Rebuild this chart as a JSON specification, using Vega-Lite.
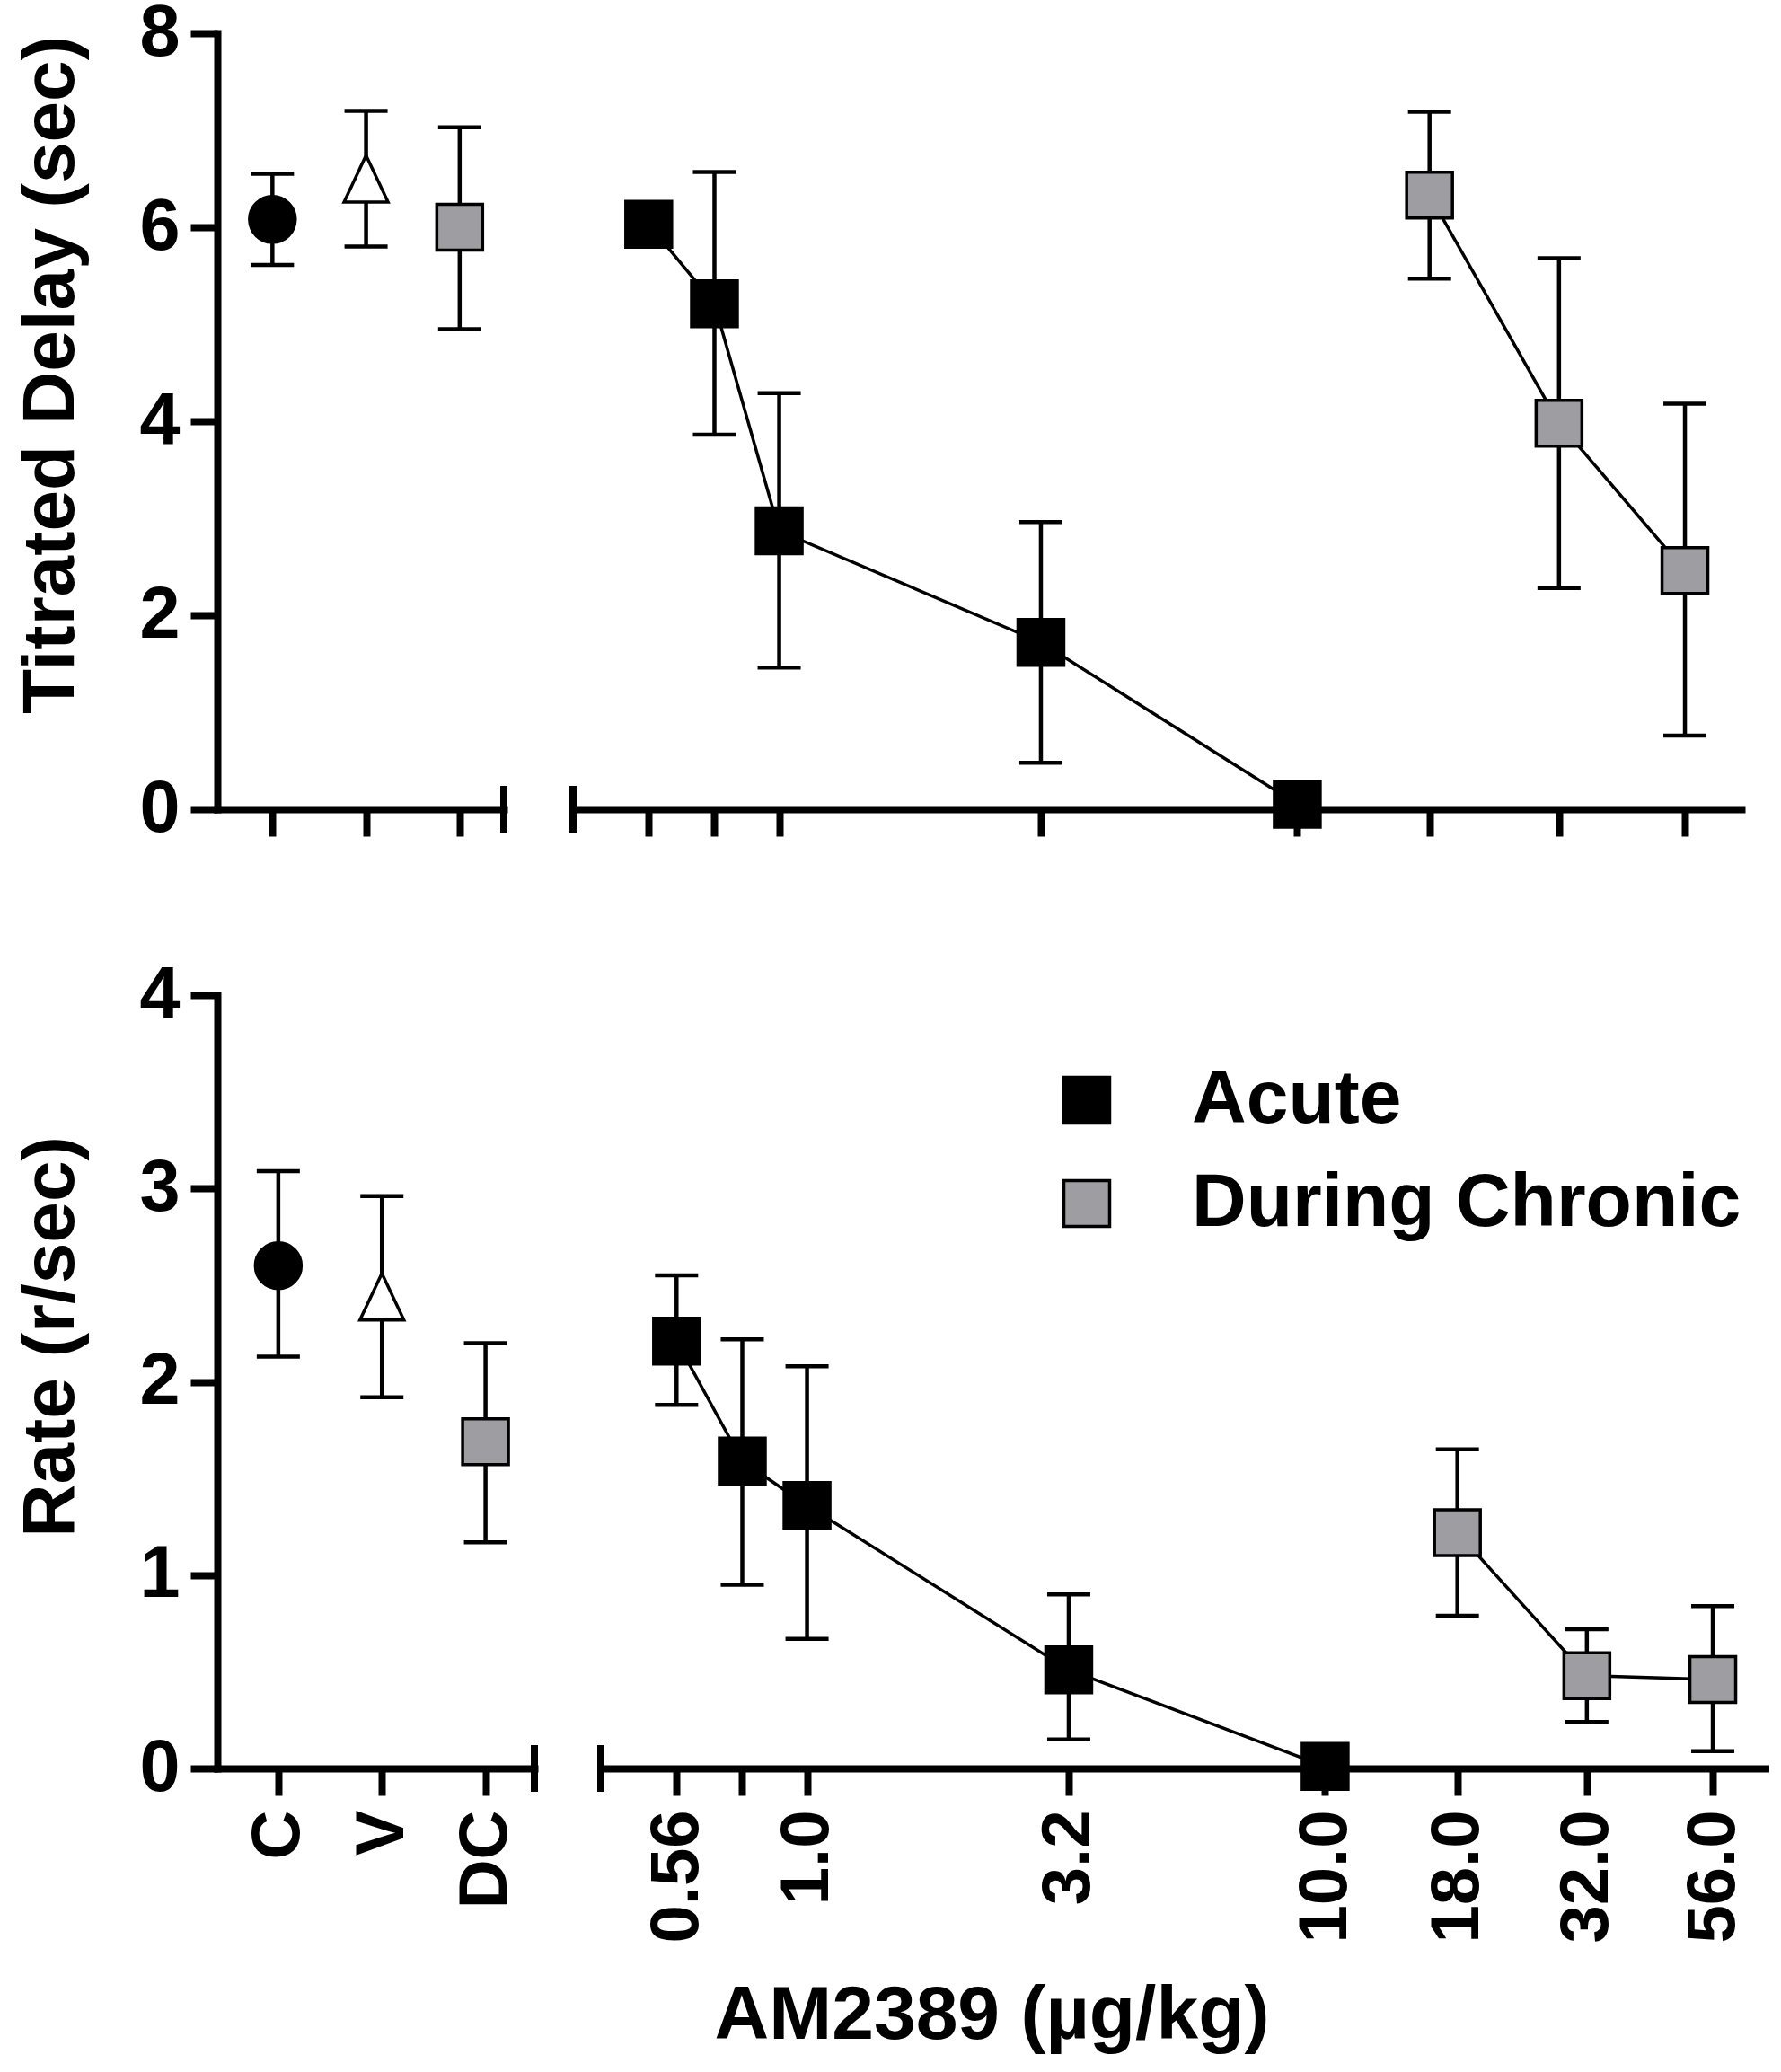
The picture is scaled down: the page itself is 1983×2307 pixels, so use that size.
{
  "$schema": "https://vega.github.io/schema/vega-lite/v6.json",
  "background": "white",
  "padding": {"left": 15, "top": -4, "right": 0, "bottom": 0},
  "datasets": {
    "delay": [
      {"group": "C", "mean": 6.08, "lo": 5.61, "hi": 6.55},
      {"group": "V", "mean": 6.5, "lo": 5.8, "hi": 7.2},
      {"group": "DC", "mean": 6.0, "lo": 4.95, "hi": 7.03},
      {"group": "Acute", "dose": 0.56, "mean": 6.03, "lo": 5.95, "hi": 6.1},
      {"group": "Acute", "dose": 0.75, "mean": 5.21, "lo": 3.86, "hi": 6.57},
      {"group": "Acute", "dose": 1.0, "mean": 2.87, "lo": 1.46, "hi": 4.29},
      {"group": "Acute", "dose": 3.2, "mean": 1.72, "lo": 0.48, "hi": 2.96},
      {"group": "Acute", "dose": 10, "mean": 0.05, "lo": 0.02, "hi": 0.08},
      {"group": "During Chronic", "dose": 18, "mean": 6.33, "lo": 5.47, "hi": 7.19},
      {"group": "During Chronic", "dose": 32, "mean": 3.98, "lo": 2.28, "hi": 5.68},
      {"group": "During Chronic", "dose": 56, "mean": 2.46, "lo": 0.76, "hi": 4.18}
    ],
    "rate": [
      {"group": "C", "mean": 2.6, "lo": 2.13, "hi": 3.09},
      {"group": "V", "mean": 2.44, "lo": 1.92, "hi": 2.96},
      {"group": "DC", "mean": 1.69, "lo": 1.17, "hi": 2.2},
      {"group": "Acute", "dose": 0.56, "mean": 2.21, "lo": 1.88, "hi": 2.55},
      {"group": "Acute", "dose": 0.75, "mean": 1.59, "lo": 0.95, "hi": 2.22},
      {"group": "Acute", "dose": 1.0, "mean": 1.36, "lo": 0.67, "hi": 2.08},
      {"group": "Acute", "dose": 3.2, "mean": 0.51, "lo": 0.15, "hi": 0.9},
      {"group": "Acute", "dose": 10, "mean": 0.01, "lo": 0.0, "hi": 0.02},
      {"group": "During Chronic", "dose": 18, "mean": 1.22, "lo": 0.79, "hi": 1.65},
      {"group": "During Chronic", "dose": 32, "mean": 0.48, "lo": 0.24, "hi": 0.72},
      {"group": "During Chronic", "dose": 56, "mean": 0.46, "lo": 0.09, "hi": 0.84}
    ]
  },
  "spacing": 126,
  "resolve": {"legend": {"fill": "independent"}},
  "vconcat": [
    {
      "bounds": "flush",
      "spacing": 77,
      "resolve": {"legend": {"fill": "independent"}},
      "hconcat": [
        {
          "width": 319,
          "height": 864,
          "data": {"name": "delay"},
          "transform": [{"filter": "!isValid(datum.dose)"}],
          "encoding": {
            "x": {"field": "group", "type": "nominal", "sort": ["C", "V", "DC"], "scale": {"type": "point", "padding": 0.53, "align": 0.555}, "axis": {"labels": false}, "title": null}
          },
          "layer": [
            {
              "mark": {"type": "rule", "color": "black", "strokeWidth": 4.5},
              "encoding": {
                "y": {"field": "lo", "type": "quantitative", "scale": {"domain": [0, 8], "nice": false, "zero": false}, "title": "Titrated Delay (sec)"},
                "y2": {"field": "hi"}
              }
            },
            {
              "mark": {"type": "tick", "orient": "horizontal", "color": "black", "size": 48, "thickness": 4.5, "opacity": 1},
              "encoding": {"y": {"field": "lo", "type": "quantitative", "scale": {"domain": [0, 8], "nice": false, "zero": false}, "title": "Titrated Delay (sec)"}}
            },
            {
              "mark": {"type": "tick", "orient": "horizontal", "color": "black", "size": 48, "thickness": 4.5, "opacity": 1},
              "encoding": {"y": {"field": "hi", "type": "quantitative", "scale": {"domain": [0, 8], "nice": false, "zero": false}, "title": "Titrated Delay (sec)"}}
            },
            {
              "mark": {"type": "point", "filled": true, "opacity": 1, "stroke": "black", "strokeWidth": 3.5, "size": 2600},
              "encoding": {
                "y": {"field": "mean", "type": "quantitative", "scale": {"domain": [0, 8], "nice": false, "zero": false}, "title": "Titrated Delay (sec)"},
                "fill": {"field": "group", "type": "nominal", "scale": {"domain": ["C", "V", "DC", "Acute", "During Chronic"], "range": ["black", "white", "#9d9da2", "black", "#9d9da2"]}, "legend": null},
                "shape": {"field": "group", "type": "nominal", "scale": {"domain": ["C", "V", "DC", "Acute", "During Chronic"], "range": ["circle", "M0,-1.02L-0.96,1.02L0.96,1.02Z", "square", "square", "square"]}, "legend": null}
              }
            },
            {
              "mark": {"type": "rule", "color": "black", "strokeWidth": 8},
              "encoding": {
                "x": {"value": "width"},
                "y": {"datum": -0.24, "type": "quantitative", "scale": {"domain": [0, 8], "nice": false, "zero": false}, "title": "Titrated Delay (sec)"},
                "y2": {"datum": 0.24}
              }
            }
          ]
        },
        {
          "width": 1301,
          "height": 864,
          "data": {"name": "delay"},
          "transform": [{"filter": "isValid(datum.dose)"}],
          "encoding": {
            "x": {"field": "dose", "type": "quantitative", "scale": {"type": "log", "domain": [0.4, 72], "nice": false}, "axis": {"values": [0.56, 0.75, 1, 3.2, 10, 18, 32, 56], "labels": false}, "title": null}
          },
          "layer": [
            {
              "mark": {"type": "line", "color": "black", "strokeWidth": 3.5},
              "encoding": {
                "y": {"field": "mean", "type": "quantitative", "scale": {"domain": [0, 8], "nice": false, "zero": false}, "axis": null},
                "detail": {"field": "group"}
              }
            },
            {
              "mark": {"type": "rule", "color": "black", "strokeWidth": 4.5},
              "encoding": {
                "y": {"field": "lo", "type": "quantitative", "scale": {"domain": [0, 8], "nice": false, "zero": false}, "axis": null},
                "y2": {"field": "hi"}
              }
            },
            {
              "mark": {"type": "tick", "orient": "horizontal", "color": "black", "size": 48, "thickness": 4.5, "opacity": 1},
              "encoding": {"y": {"field": "lo", "type": "quantitative", "scale": {"domain": [0, 8], "nice": false, "zero": false}, "axis": null}}
            },
            {
              "mark": {"type": "tick", "orient": "horizontal", "color": "black", "size": 48, "thickness": 4.5, "opacity": 1},
              "encoding": {"y": {"field": "hi", "type": "quantitative", "scale": {"domain": [0, 8], "nice": false, "zero": false}, "axis": null}}
            },
            {
              "mark": {"type": "point", "filled": true, "opacity": 1, "stroke": "black", "strokeWidth": 3.5, "size": 2600},
              "encoding": {
                "y": {"field": "mean", "type": "quantitative", "scale": {"domain": [0, 8], "nice": false, "zero": false}, "axis": null},
                "fill": {"field": "group", "type": "nominal", "scale": {"domain": ["C", "V", "DC", "Acute", "During Chronic"], "range": ["black", "white", "#9d9da2", "black", "#9d9da2"]}, "legend": null},
                "shape": {"field": "group", "type": "nominal", "scale": {"domain": ["C", "V", "DC", "Acute", "During Chronic"], "range": ["circle", "M0,-1.02L-0.96,1.02L0.96,1.02Z", "square", "square", "square"]}, "legend": null}
              }
            },
            {
              "mark": {"type": "rule", "color": "black", "strokeWidth": 8},
              "encoding": {
                "x": {"datum": 0.4, "type": "quantitative"},
                "y": {"datum": -0.24, "type": "quantitative", "scale": {"domain": [0, 8], "nice": false, "zero": false}, "axis": null},
                "y2": {"datum": 0.24}
              }
            }
          ]
        }
      ]
    },
    {
      "bounds": "flush",
      "spacing": 74,
      "resolve": {"legend": {"fill": "independent"}},
      "hconcat": [
        {
          "width": 353,
          "height": 861,
          "data": {"name": "rate"},
          "transform": [{"filter": "!isValid(datum.dose)"}],
          "encoding": {
            "x": {"field": "group", "type": "nominal", "sort": ["C", "V", "DC"], "scale": {"type": "point", "padding": 0.53, "align": 0.555}, "title": null}
          },
          "layer": [
            {
              "mark": {"type": "rule", "color": "black", "strokeWidth": 4.5},
              "encoding": {
                "y": {"field": "lo", "type": "quantitative", "scale": {"domain": [0, 4], "nice": false, "zero": false}, "title": "Rate (r/sec)"},
                "y2": {"field": "hi"}
              }
            },
            {
              "mark": {"type": "tick", "orient": "horizontal", "color": "black", "size": 48, "thickness": 4.5, "opacity": 1},
              "encoding": {"y": {"field": "lo", "type": "quantitative", "scale": {"domain": [0, 4], "nice": false, "zero": false}, "title": "Rate (r/sec)"}}
            },
            {
              "mark": {"type": "tick", "orient": "horizontal", "color": "black", "size": 48, "thickness": 4.5, "opacity": 1},
              "encoding": {"y": {"field": "hi", "type": "quantitative", "scale": {"domain": [0, 4], "nice": false, "zero": false}, "title": "Rate (r/sec)"}}
            },
            {
              "mark": {"type": "point", "filled": true, "opacity": 1, "stroke": "black", "strokeWidth": 3.5, "size": 2600},
              "encoding": {
                "y": {"field": "mean", "type": "quantitative", "scale": {"domain": [0, 4], "nice": false, "zero": false}, "title": "Rate (r/sec)"},
                "fill": {"field": "group", "type": "nominal", "scale": {"domain": ["C", "V", "DC", "Acute", "During Chronic"], "range": ["black", "white", "#9d9da2", "black", "#9d9da2"]}, "legend": null},
                "shape": {"field": "group", "type": "nominal", "scale": {"domain": ["C", "V", "DC", "Acute", "During Chronic"], "range": ["circle", "M0,-1.02L-0.96,1.02L0.96,1.02Z", "square", "square", "square"]}, "legend": null}
              }
            },
            {
              "mark": {"type": "rule", "color": "black", "strokeWidth": 8},
              "encoding": {
                "x": {"value": "width"},
                "y": {"datum": -0.12, "type": "quantitative", "scale": {"domain": [0, 4], "nice": false, "zero": false}, "title": "Rate (r/sec)"},
                "y2": {"datum": 0.12}
              }
            }
          ]
        },
        {
          "width": 1301,
          "height": 861,
          "data": {"name": "rate"},
          "transform": [{"filter": "isValid(datum.dose)"}],
          "encoding": {
            "x": {
              "field": "dose", "type": "quantitative",
              "scale": {"type": "log", "domain": [0.4, 72], "nice": false},
              "axis": {
                "values": [0.56, 0.75, 1, 3.2, 10, 18, 32, 56],
                "labelExpr": "datum.value == 0.56 ? '0.56' : datum.value == 0.75 ? '' : format(datum.value, '.1f')",
                "titleX": 435,
                "titlePadding": 41
              },
              "title": "AM2389 (µg/kg)"
            }
          },
          "layer": [
            {
              "mark": {"type": "line", "color": "black", "strokeWidth": 3.5},
              "encoding": {
                "y": {"field": "mean", "type": "quantitative", "scale": {"domain": [0, 4], "nice": false, "zero": false}, "axis": null},
                "detail": {"field": "group"}
              }
            },
            {
              "mark": {"type": "rule", "color": "black", "strokeWidth": 4.5},
              "encoding": {
                "y": {"field": "lo", "type": "quantitative", "scale": {"domain": [0, 4], "nice": false, "zero": false}, "axis": null},
                "y2": {"field": "hi"}
              }
            },
            {
              "mark": {"type": "tick", "orient": "horizontal", "color": "black", "size": 48, "thickness": 4.5, "opacity": 1},
              "encoding": {"y": {"field": "lo", "type": "quantitative", "scale": {"domain": [0, 4], "nice": false, "zero": false}, "axis": null}}
            },
            {
              "mark": {"type": "tick", "orient": "horizontal", "color": "black", "size": 48, "thickness": 4.5, "opacity": 1},
              "encoding": {"y": {"field": "hi", "type": "quantitative", "scale": {"domain": [0, 4], "nice": false, "zero": false}, "axis": null}}
            },
            {
              "mark": {"type": "point", "filled": true, "opacity": 1, "stroke": "black", "strokeWidth": 3.5, "size": 2600},
              "encoding": {
                "y": {"field": "mean", "type": "quantitative", "scale": {"domain": [0, 4], "nice": false, "zero": false}, "axis": null},
                "fill": {"field": "group", "type": "nominal", "scale": {"domain": ["C", "V", "DC", "Acute", "During Chronic"], "range": ["black", "white", "#9d9da2", "black", "#9d9da2"]}, "legend": {"values": ["Acute", "During Chronic"], "title": null, "orient": "none", "legendX": 499, "legendY": 75, "symbolType": "square", "symbolSize": 2600, "symbolStrokeColor": "black", "symbolStrokeWidth": 3.5, "labelFontSize": 84, "labelFont": "Liberation Sans", "labelFontWeight": "bold", "labelColor": "black", "labelOffset": 75, "labelLimit": 1000, "rowPadding": 31}},
                "shape": {"field": "group", "type": "nominal", "scale": {"domain": ["C", "V", "DC", "Acute", "During Chronic"], "range": ["circle", "M0,-1.02L-0.96,1.02L0.96,1.02Z", "square", "square", "square"]}, "legend": null}
              }
            },
            {
              "mark": {"type": "rule", "color": "black", "strokeWidth": 8},
              "encoding": {
                "x": {"datum": 0.4, "type": "quantitative"},
                "y": {"datum": -0.12, "type": "quantitative", "scale": {"domain": [0, 4], "nice": false, "zero": false}, "axis": null},
                "y2": {"datum": 0.12}
              }
            }
          ]
        }
      ]
    }
  ],
  "config": {
    "font": "Liberation Sans",
    "view": {"stroke": null},
    "axis": {
      "grid": false,
      "domainColor": "black",
      "domainWidth": 8,
      "domainCap": "square",
      "tickColor": "black",
      "tickWidth": 8,
      "tickSize": 30,
      "labelColor": "black",
      "labelFont": "Liberation Sans",
      "labelFontWeight": "bold",
      "titleColor": "black",
      "titleFont": "Liberation Sans",
      "titleFontWeight": "bold",
      "labelOverlap": false,
      "labelFlush": false,
      "labelBound": false
    },
    "axisY": {"labelFontSize": 81, "labelPadding": 12, "titleFontSize": 82, "titlePadding": 56, "tickCount": 4, "titleY": 380},
    "axisX": {"labelFontSize": 76, "labelAngle": -90, "labelPadding": 16, "titleFontSize": 84},
    "legend": {"labelFont": "Liberation Sans"}
  }
}
